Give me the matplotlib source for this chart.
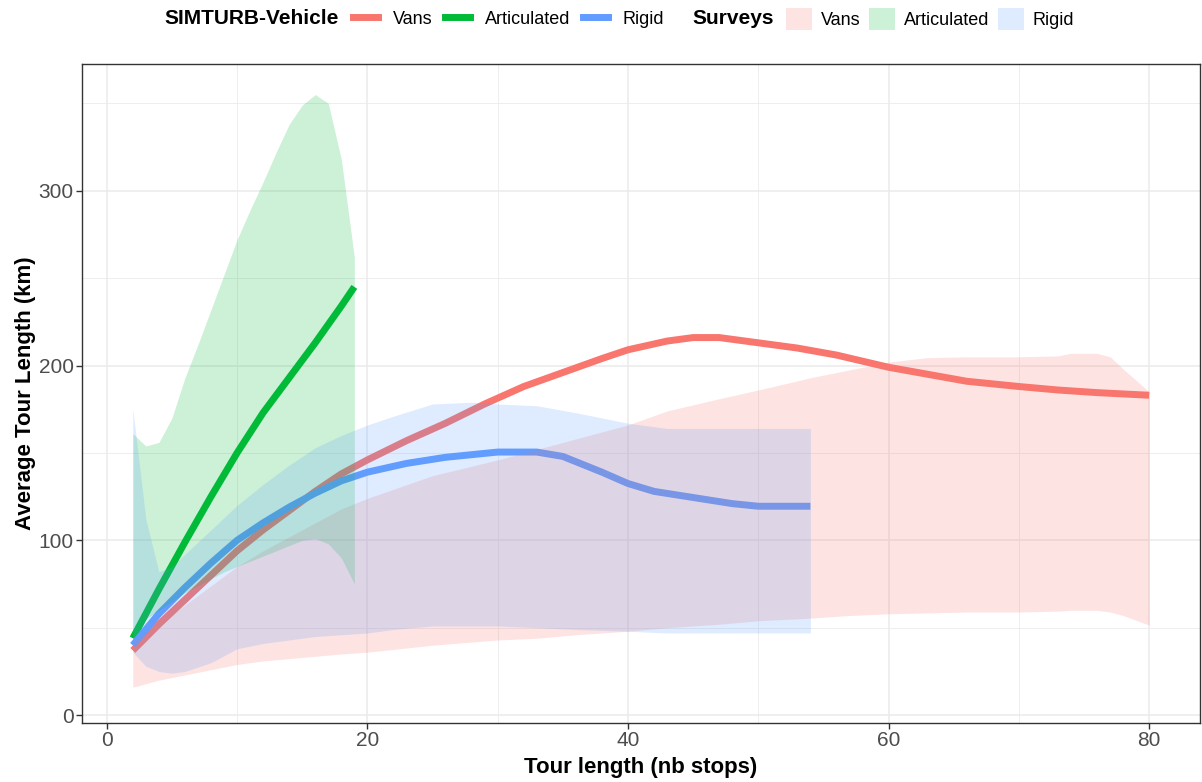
import numpy as np
import matplotlib
matplotlib.use("Agg")
import matplotlib.pyplot as plt
from matplotlib.lines import Line2D
from matplotlib.patches import Patch

plt.rcParams['font.family'] = ['Liberation Sans', 'DejaVu Sans']

# colours (ggplot hue palette)
col_vans, col_art, col_rigid = "#F8766D", "#00BA38", "#619CFF"

# SIMTURB-Vehicle lines
vans_x = [2, 4, 6, 8, 10, 12, 14, 16, 18, 20, 23, 26, 29, 32, 35, 38, 40, 43, 45, 47,
          50, 53, 56, 60, 63, 66, 70, 73, 76, 80]
vans_y = [37, 52, 66, 80, 94, 106, 117, 128, 138, 146, 157, 167, 178, 188, 196, 204, 209, 214, 216, 216,
          213, 210, 206, 199, 195, 191, 188, 186, 184.5, 183]

art_x = [2, 4, 6, 8, 10, 12, 14, 16, 18, 19]
art_y = [44, 72, 99, 125, 150, 173, 193, 213, 234, 245]

rigid_x = [2, 4, 6, 8, 10, 12, 14, 16, 18, 20, 23, 26, 30, 33, 35, 36, 38, 40, 42, 45, 48, 50, 54]
rigid_y = [40, 58, 73, 87, 100, 110, 119, 127, 134, 139, 144, 147.5, 150.5, 150.5, 148, 145, 139,
           132.5, 128, 124.5, 121, 119.5, 119.5]

# Surveys ribbons
sv_vans_x = [2, 4, 6, 8, 10, 12, 15, 18, 20, 25, 30, 33, 36, 40, 43, 47, 50, 54, 57, 60,
             63, 66, 70, 73, 74, 76, 77, 78, 80]
sv_vans_hi = [42, 52, 63, 74, 85, 94, 106, 118, 124, 137, 146, 152, 158, 166, 174, 181, 186, 193, 197.5, 202,
              204.5, 205, 205, 205.5, 207, 207, 205, 198, 185]
sv_vans_lo = [16, 20, 23, 26, 29, 31, 33, 35, 36, 40, 43, 44, 46, 48, 50, 52, 54, 55.5, 57, 58,
              58.5, 59, 59, 59.5, 60, 60, 59, 57, 51.5]

sv_art_x = [2, 3, 4, 5, 6, 7, 8, 9, 10, 11, 12, 13, 14, 15, 16, 17, 18, 19]
sv_art_hi = [161, 154, 156, 170, 193, 212, 232, 252, 272, 289, 305, 322, 338, 349, 355, 350, 318, 262]
sv_art_lo = [48, 55, 60, 65, 70, 74, 78, 82, 85, 88, 91, 94, 97, 100, 101, 98, 90, 75]

sv_rigid_x = [2, 3, 4, 5, 6, 8, 10, 12, 14, 16, 18, 20, 22, 25, 28, 30, 33, 36, 40, 43, 46, 50, 54]
sv_rigid_hi = [175, 112, 82, 85, 92, 106, 120, 132, 143, 153, 160, 166, 171, 178, 179, 178, 177, 173,
               167, 164, 164, 164, 164]
sv_rigid_lo = [36, 28, 25, 24, 25, 30, 38, 41, 43, 45, 46, 47, 49, 51, 51, 51, 50, 49, 48, 47, 47, 47, 47]

W, H = 1202, 782
fig = plt.figure(figsize=(W / 100, H / 100), dpi=100)
ax = fig.add_axes([82 / W, 1 - 723 / H, (1200 - 82) / W, (723 - 64) / H])

lw = 5
for x, y, c in [(vans_x, vans_y, col_vans), (art_x, art_y, col_art), (rigid_x, rigid_y, col_rigid)]:
    ax.plot(x, y, color=c, lw=lw, solid_joinstyle='round', solid_capstyle='butt', zorder=2)

for x, lo, hi, c in [(sv_vans_x, sv_vans_lo, sv_vans_hi, col_vans),
                     (sv_art_x, sv_art_lo, sv_art_hi, col_art),
                     (sv_rigid_x, sv_rigid_lo, sv_rigid_hi, col_rigid)]:
    ax.fill_between(x, lo, hi, color=c, alpha=0.2, lw=0, zorder=3)

ax.set_xlim(-1.9, 83.9)
ax.set_ylim(-4.5, 372.5)
ax.set_xticks([0, 20, 40, 60, 80])
ax.set_yticks([0, 100, 200, 300])
ax.set_xticks([10, 30, 50, 70], minor=True)
ax.set_yticks([50, 150, 250, 350], minor=True)
ax.grid(which='major', color='#EBEBEB', lw=1.1, zorder=0)
ax.grid(which='minor', color='#EBEBEB', lw=0.6, zorder=0)
ax.set_axisbelow(True)
ax.tick_params(which='minor', length=0)
ax.tick_params(which='major', length=4, width=1, color='#333333', labelcolor='#4D4D4D',
               labelsize=15, pad=2)
for s in ax.spines.values():
    s.set_color('#333333')
    s.set_linewidth(1)

ax.set_xlabel("Tour length (nb stops)", fontsize=16, fontweight='bold', labelpad=4.5)
ax.set_ylabel("Average Tour Length (km)", fontsize=16, fontweight='bold', labelpad=1.5)

# legends on top
ly = 1 - 19 / H
fig.text(339 / W, ly, "SIMTURB-Vehicle", ha='right', va='center', fontsize=15, fontweight='bold')
fig.text(774 / W, ly, "Surveys", ha='right', va='center', fontsize=15, fontweight='bold')

h1 = [Line2D([], [], color=c, lw=lw) for c in (col_vans, col_art, col_rigid)]
fig.legend(h1, ["Vans", "Articulated", "Rigid"], loc='center left', bbox_to_anchor=(353 / W, ly),
           ncol=3, frameon=False, fontsize=13, borderpad=0, handlelength=1.4, handletextpad=0.8,
           columnspacing=0.7, borderaxespad=0)

h2 = [Patch(facecolor=c, alpha=0.2, lw=0) for c in (col_vans, col_art, col_rigid)]
fig.legend(h2, ["Vans", "Articulated", "Rigid"], loc='center left', bbox_to_anchor=(786 / W, ly),
           ncol=3, frameon=False, fontsize=13, borderpad=0, handlelength=1.45, handleheight=1.45,
           handletextpad=0.5, columnspacing=0.45, borderaxespad=0)

fig.savefig("out.png", dpi=100)
